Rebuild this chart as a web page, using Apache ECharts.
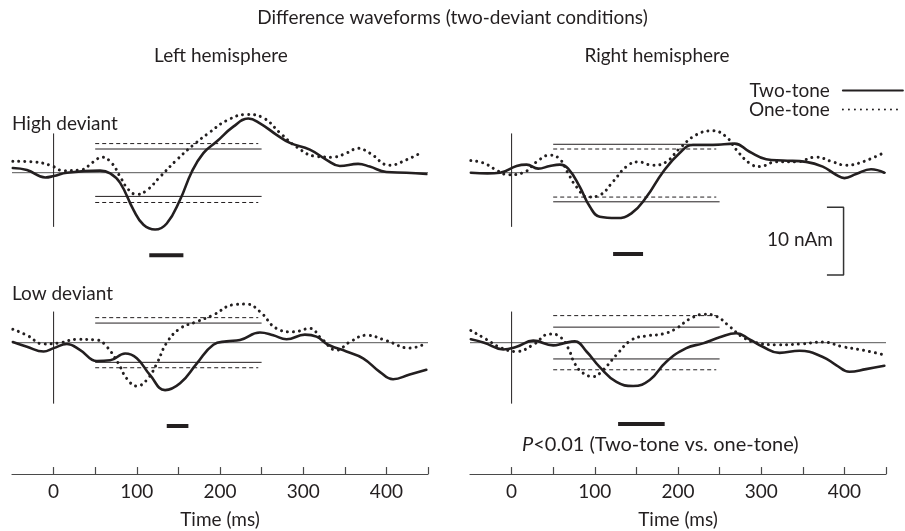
<!DOCTYPE html>
<html>
<head>
<meta charset="utf-8">
<script src="https://cdn.jsdelivr.net/npm/echarts@6/dist/echarts.min.js"></script>
<style>
  html, body { margin: 0; padding: 0; background: #fff; }
  #chart { width: 905px; height: 531px; }
</style>
</head>
<body>
<div id="chart"></div>
<script>
// time (ms), amplitude (nAm)
const lhTwo = [[-49,0.7],[-32,0.4],[-10,-0.7],[0,-0.5],[16,0],[56,0.3],[68,-0.1],[80,-1.5],[96,-5.5],[108,-7.7],[122,-8.4],[136,-7.5],[152,-4.0],[166,0.1],[180,2.9],[196,4.6],[216,6.8],[234,8.0],[248,7.3],[268,5.6],[284,4.4],[308,3.4],[328,1.9],[344,1.0],[366,1.3],[380,0.9],[400,0.1],[424,0],[448,-0.2]];
const lhOne = [[-49,1.7],[-24,1.6],[-4,1.1],[12,0.3],[32,0.4],[48,1.6],[58,2.3],[70,1.4],[80,-0.6],[90,-2.5],[100,-3.2],[112,-2.6],[128,-0.6],[148,1.9],[168,4.1],[188,6.0],[208,7.7],[232,8.6],[252,8.1],[272,5.9],[292,3.8],[316,2.4],[336,2.3],[352,2.9],[366,3.6],[380,2.9],[404,1.1],[424,1.9],[444,3.1]];
const rhTwo = [[-49,0],[-29,-0.1],[-14,0],[6,1.0],[18,1.2],[32,0.6],[46,1.0],[58,1.2],[68,0.6],[82,-2.1],[94,-5.0],[106,-6.5],[126,-6.7],[144,-6.0],[162,-3.6],[182,0.1],[202,2.9],[218,4.1],[242,4.1],[268,4.3],[286,3.1],[306,2.0],[326,1.8],[354,1.6],[374,0.9],[390,-0.3],[400,-0.8],[414,-0.2],[432,0.5],[448,0]];
const rhOne = [[-49,1.8],[-33,1.4],[-17,0.3],[-4,-0.3],[14,0],[30,1.6],[46,2.6],[58,2.0],[68,-0.1],[78,-2.1],[92,-3.6],[106,-3.3],[122,-1.3],[138,0.9],[152,1.6],[170,1.1],[186,1.6],[202,3.6],[222,5.6],[242,6.2],[258,5.3],[270,3.4],[286,1.4],[298,0.9],[318,1.6],[342,1.6],[366,2.3],[386,1.6],[402,1.1],[422,1.6],[448,3.0]];
const llTwo = [[-49,0.1],[-32,-0.6],[-12,-1.3],[0,-0.8],[16,-0.2],[32,-1.1],[52,-2.7],[68,-2.6],[86,-1.6],[100,-2.3],[116,-4.8],[134,-7.0],[152,-6.0],[172,-3.1],[192,-0.3],[208,0.2],[224,0.4],[248,1.5],[264,1.1],[280,0.5],[302,1.2],[316,0.9],[330,-0.3],[352,-1.3],[372,-2.3],[392,-4.3],[408,-5.4],[428,-4.7],[448,-4.0]];
const llOne = [[-49,2.0],[-32,1.1],[-12,-0.2],[8,0],[28,0.5],[52,0.4],[64,-0.6],[78,-3.1],[88,-5.3],[100,-6.4],[112,-5.5],[124,-3.1],[136,0],[152,2.1],[172,3.1],[192,4.1],[216,5.6],[232,5.7],[248,4.6],[268,2.1],[288,1.6],[308,2.1],[322,0.6],[340,-1.1],[356,0.1],[376,1.1],[400,0.3],[428,-0.8],[444,-0.3]];
const rlTwo = [[-49,0.5],[-33,0],[-10,-1.0],[6,-0.6],[26,0.3],[50,-0.4],[62,-0.1],[76,0.2],[90,-1.3],[106,-3.6],[126,-5.8],[146,-6.4],[166,-5.5],[186,-2.8],[210,-0.8],[230,-0.1],[250,0.8],[270,1.4],[286,0.5],[302,-0.6],[322,-1.5],[346,-1.2],[374,-2.1],[390,-3.3],[406,-4.3],[426,-3.9],[448,-3.4]];
const rlOne = [[-49,1.8],[-29,0.4],[-14,-0.7],[6,-1.3],[26,-0.3],[46,1.3],[58,0.9],[68,-0.8],[76,-3.1],[86,-4.5],[98,-5.0],[110,-4.0],[126,-1.8],[144,0.4],[162,1.0],[182,1.3],[198,2.1],[214,3.5],[232,4.2],[246,3.9],[262,2.4],[278,0.8],[294,0],[318,-0.3],[346,-0.2],[374,0.1],[398,-0.6],[422,-1.1],[448,-1.8]];

// confidence limits (nAm): [upper, lower]
const bandSpan = [50, 250];
const lhSolidBand = [3.5, -3.5], lhDashBand = [4.3, -4.4];
const rhSolidBand = [4.2, -4.3], rhDashBand = [3.5, -3.6];
const llSolidBand = [2.9, -2.9], llDashBand = [3.7, -3.7];
const rlSolidBand = [2.3, -2.4], rlDashBand = [4.0, -4.0];

// P < 0.01 windows (ms)
const lhSig = [115, 156];
const rhSig = [122, 158];
const llSig = [136, 162];
const rlSig = [128, 184];

const tickValues = [0, 50, 100, 150, 200, 250, 300, 350, 400, 450];
const labelValues = [0, 100, 200, 300, 400];
const scaleBar = 10; // nAm

// layout
const PX = 6.77;                 // pixels per nAm
const FONT = 'Lato, "Open Sans", sans-serif';
const FS = 19;
const INK = '#231f20';
const panels = [
  { two: lhTwo, one: lhOne, solid: lhSolidBand, dash: lhDashBand, sig: lhSig, left: 12, base: 172.7, yMax: 12, yMin: -17, sigY: -12.2, vTop: 5.8, vBot: -8.0, axis: false },
  { two: rhTwo, one: rhOne, solid: rhSolidBand, dash: rhDashBand, sig: rhSig, left: 470, base: 172.7, yMax: 12, yMin: -17, sigY: -12.0, vTop: 5.8, vBot: -8.0, axis: false },
  { two: llTwo, one: llOne, solid: llSolidBand, dash: llDashBand, sig: llSig, left: 12, base: 342.7, yMax: 8, yMin: -19.4, sigY: -12.3, vTop: 4.6, vBot: -9.0, axis: true },
  { two: rlTwo, one: rlOne, solid: rlSolidBand, dash: rlDashBand, sig: rlSig, left: 470, base: 342.7, yMax: 8, yMin: -19.4, sigY: -12.0, vTop: 4.6, vBot: -9.0, axis: true }
];

const grid = [], xAxis = [], yAxis = [], series = [];
const dotted = { width: 3, type: [0.01, 6], cap: 'round' };
const solidLine = { width: 2.6, cap: 'round' };

function seg(i, data, style, extra) {
  return Object.assign({
    type: 'line', xAxisIndex: i, yAxisIndex: i, data: data,
    symbol: 'none', silent: true, animation: false,
    itemStyle: { color: INK },
    lineStyle: Object.assign({ color: INK, width: 1 }, style)
  }, extra || {});
}

panels.forEach(function (p, i) {
  grid.push({ left: p.left, width: 416, top: p.base - p.yMax * PX, height: (p.yMax - p.yMin) * PX });
  xAxis.push({
    gridIndex: i, type: 'value', min: -50, max: 450, show: p.axis,
    splitLine: { show: false },
    axisLine: { onZero: false, lineStyle: { color: '#4a4a4a', width: 1.2 } },
    axisTick: { inside: true, length: 7, customValues: tickValues, lineStyle: { color: '#4a4a4a', width: 1.2 } },
    axisLabel: { customValues: labelValues, margin: 8, color: INK, fontSize: FS, fontFamily: FONT },
    name: 'Time (ms)', nameLocation: 'middle', nameGap: 36,
    nameTextStyle: { color: INK, fontSize: FS, fontFamily: FONT }
  });
  yAxis.push({ gridIndex: i, type: 'value', min: p.yMin, max: p.yMax, show: false, splitLine: { show: false } });

  series.push(seg(i, [[-50, 0], [450, 0]], { color: '#555', width: 1 }));
  series.push(seg(i, [[0, p.vTop], [0, p.vBot]], {}));
  p.solid.forEach(function (v) { series.push(seg(i, [[bandSpan[0], v], [bandSpan[1], v]], {})); });
  p.dash.forEach(function (v) { series.push(seg(i, [[bandSpan[0], v], [bandSpan[1] - 4, v]], { type: [4, 3] })); });
  series.push(seg(i, [[p.sig[0], p.sigY], [p.sig[1], p.sigY]], { width: 4 }));
  series.push(seg(i, p.one, dotted, { name: 'One-tone', smooth: 0.45, silent: false }));
  series.push(seg(i, p.two, solidLine, { name: 'Two-tone', smooth: 0.45, silent: false }));
});

// 10 nAm scale bracket, drawn in the right upper panel
series.push(seg(1, [[379, -5.1], [399, -5.1], [399, -5.1 - scaleBar], [379, -5.1 - scaleBar]], { width: 1.5, color: '#333' }));

const txt = { color: INK, fontSize: FS, fontWeight: 'normal', fontFamily: FONT };
const option = {
  backgroundColor: '#fff',
  animation: false,
  title: [
    { text: 'Difference waveforms (two-deviant conditions)', left: 'center', top: 8, padding: 0, textStyle: txt },
    { text: 'Left hemisphere', left: 221, textAlign: 'center', top: 46, padding: 0, textStyle: txt },
    { text: 'Right hemisphere', left: 657, textAlign: 'center', top: 46, padding: 0, textStyle: txt },
    { text: 'High deviant', left: 12, top: 114, padding: 0, textStyle: txt },
    { text: 'Low deviant', left: 12, top: 284, padding: 0, textStyle: txt },
    { text: '10 nAm', left: 767, top: 230, padding: 0, textStyle: txt },
    { text: '{i|P}<0.01 (Two-tone vs. one-tone)', left: 522, top: 435, padding: 0,
      textStyle: Object.assign({}, txt, { fontSize: 20, rich: { i: { fontStyle: 'italic', fontSize: 20, color: INK, fontFamily: FONT } } }) }
  ],
  legend: {
    data: ['Two-tone', 'One-tone'], orient: 'vertical', left: 749, top: 81, align: 'right',
    itemWidth: 60, itemHeight: 10, itemGap: 0, padding: 0, selectedMode: false,
    itemStyle: { opacity: 0 },
    textStyle: Object.assign({}, txt, { padding: [0, 8, 0, 0] })
  },
  grid: grid, xAxis: xAxis, yAxis: yAxis, series: series
};

const chart = echarts.init(document.getElementById('chart'));
chart.setOption(option);
</script>
</body>
</html>
